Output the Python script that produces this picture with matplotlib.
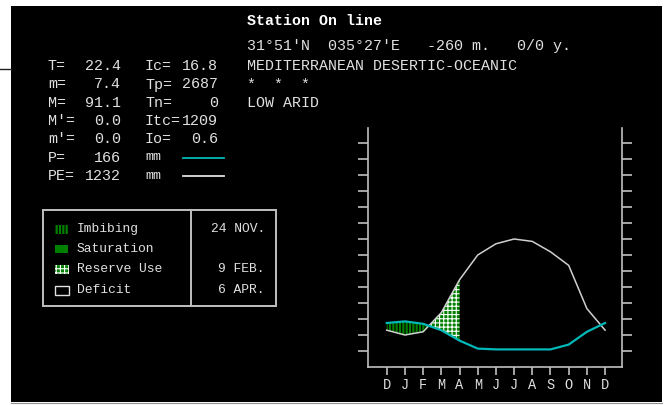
import numpy as np
import matplotlib.pyplot as plt
from matplotlib.patches import Rectangle

plt.rcParams['hatch.linewidth'] = 0.8
MONO = ['Liberation Mono', 'DejaVu Sans Mono', 'monospace']
FG = '#e0e0e0'
AXC = '#c0c0c0'
GREEN = '#008000'
CYAN = '#00b8b8'

# data (mm, Jan..Dec)
months = ['D', 'J', 'F', 'M', 'A', 'M', 'J', 'J', 'A', 'S', 'O', 'N', 'D']
p_mm = [37, 34, 26, 13, 3, 2, 2, 2, 2, 8, 24, 35]
pe_mm = [20, 24, 48, 89, 120, 134, 140, 137, 124, 107, 53, 26]

stat_left = [('T=', '22.4'), ('m=', '7.4'), ('M=', '91.1'), ("M'=", '0.0'),
             ("m'=", '0.0'), ('P=', '166'), ('PE=', '1232')]
stat_right = [('Ic=', '16.8'), ('Tp=', '2687'), ('Tn=', '0'), ('Itc=', '1209'),
              ('Io=', '0.6')]
header = ["31°51'N  035°27'E   -260 m.   0/0 y.",
          'MEDITERRANEAN DESERTIC-OCEANIC', '*  *  *', 'LOW ARID']
legend_items = ['Imbibing', 'Saturation', 'Reserve Use', 'Deficit']
legend_dates = ['24 NOV.', '', '9 FEB.', '6 APR.']

fig = plt.figure(figsize=(6.69, 4.05), dpi=100)
fig.patch.set_facecolor('white')

# pixel-coordinate canvas for the panel, texts and legend box
bg = fig.add_axes([0, 0, 1, 1])
bg.set_xlim(0, 669)
bg.set_ylim(405, 0)
bg.axis('off')
bg.add_patch(Rectangle((11, 6), 651, 396, facecolor='black', edgecolor='none'))
bg.plot([11, 662], [402.5, 402.5], color='#909090', lw=0.8)
bg.plot([0, 11], [69, 69], color='#202020', lw=1)

bg.text(247, 21, 'Station On line', color='white', family=MONO,
        fontsize=10.8, weight='bold', va='center')
for txt, y in zip(header, [46, 66, 85, 103]):
    bg.text(247, y, txt, color=FG, family=MONO, fontsize=10.8, va='center')

rows_y = [66, 84.5, 103, 121, 139, 157.5, 176]
for (lab, val), y in zip(stat_left, rows_y):
    bg.text(48, y, lab, color=FG, family=MONO, fontsize=10.8, va='center')
    bg.text(121, y, val, color=FG, family=MONO, fontsize=10.8, va='center', ha='right')
for (lab, val), y in zip(stat_right, rows_y):
    bg.text(145, y, lab, color=FG, family=MONO, fontsize=10.8, va='center')
    bg.text(218, y, val, color=FG, family=MONO, fontsize=10.8, va='center', ha='right')
for y, c in [(157.5, CYAN), (176, FG)]:
    bg.text(145, y, 'mm', color=FG, family=MONO, fontsize=9.5, va='center')
    bg.plot([183, 224], [y, y], color=c, lw=1.3)

# legend box
bg.add_patch(Rectangle((43, 210), 233, 96, facecolor='none', edgecolor=AXC, lw=1.4))
bg.plot([191, 191], [210, 306], color=AXC, lw=1.4)
leg_y = [229, 249, 269, 290]
bg.add_patch(Rectangle((55, 225), 13, 9, facecolor=GREEN, edgecolor='black',
                       lw=0, hatch='|||||'))
bg.add_patch(Rectangle((55, 245), 13, 8, facecolor=GREEN, edgecolor='none'))
bg.add_patch(Rectangle((55, 265), 14, 9, facecolor=GREEN, edgecolor='white',
                       lw=0, hatch='++++'))
bg.add_patch(Rectangle((55, 286), 14, 9, facecolor='black', edgecolor=FG, lw=1))
for lab, date, y in zip(legend_items, legend_dates, leg_y):
    bg.text(77, y, lab, color=FG, family=MONO, fontsize=9.4, va='center')
    bg.text(265, y, date, color=FG, family=MONO, fontsize=9.4, va='center', ha='right')

# water balance chart
ax = fig.add_axes([368 / 669, 38 / 405, 254 / 669, 239 / 405])
ax.set_facecolor('black')
x = np.arange(13)
p = np.array([p_mm[-1]] + p_mm)
pe = np.array([pe_mm[-1]] + pe_mm)

ax.fill_between(x, p, pe, where=(x <= 3) & (p >= pe), interpolate=True,
                facecolor=GREEN, edgecolor='black', lw=0, hatch='|||||')
ax.fill_between(x, p, pe, where=(x >= 2) & (x <= 4) & (pe >= p), interpolate=True,
                facecolor=GREEN, edgecolor='white', lw=0, hatch='++++')
ax.plot(x, pe, color='#d0d0d0', lw=1.1)
ax.plot(x, p, color=CYAN, lw=1.6)

ax.set_xlim(-1.03, 12.93)
ax.set_ylim(-20, 278.75)
ax.set_xticks(x)
ax.set_xticklabels(months, family=MONO, fontsize=9.8, color=FG)
ax.set_yticks(np.arange(0, 261, 20))
ax.tick_params(axis='x', colors=AXC, length=6, width=1.2, pad=2, labelcolor=FG)
ax.tick_params(axis='y', left=True, right=True, labelleft=False, direction='out',
               length=7, width=1.2, colors=AXC)
ax.spines['top'].set_visible(False)
for s in ['left', 'right', 'bottom']:
    ax.spines[s].set_color(AXC)
    ax.spines[s].set_linewidth(1.2)

plt.savefig('out.png', dpi=100)
